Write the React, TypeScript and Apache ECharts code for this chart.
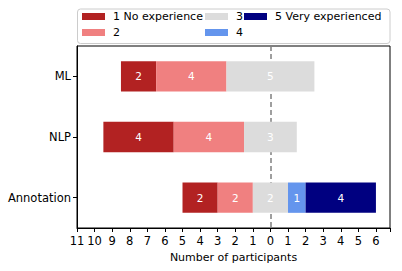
import React, { useEffect, useRef } from "react";
import * as echarts from "echarts";

const categories = ["ML", "NLP", "Annotation"];
const levelNames = ["1 No experience", "2", "3", "4", "5 Very experienced"];
const level1 = [2, 4, 2];
const level2 = [4, 4, 2];
const level3 = [5, 3, 2];
const level4 = [0, 0, 1];
const level5 = [0, 0, 4];
const levelColors = ["#b22222", "#f08080", "#dcdcdc", "#6495ed", "#000080"];
const xTickMin = -11;
const xTickMax = 6.8;
const xAxisName = "Number of participants";

const FONT = "DejaVu Sans";

export default function App() {
  const ref = useRef<HTMLDivElement>(null);
  useEffect(() => {
    document.body.style.margin = "0";
    const chart = echarts.init(ref.current!, null, { renderer: "svg" });
    const levels = [level1, level2, level3, level4, level5];
    const offsets = categories.map((_, i) => -(level1[i] + level2[i] + level3[i] / 2));

    const legendPos = [
      { left: 82, top: 11 },
      { left: 82, top: 27 },
      { left: 205, top: 11 },
      { left: 205, top: 27 },
      { left: 244, top: 11 },
    ];

    const series: any[] = [
      {
        name: "__offset",
        type: "bar",
        stack: "total",
        stackStrategy: "all",
        data: offsets,
        barWidth: "50%",
        itemStyle: { color: "rgba(0,0,0,0)" },
        silent: true,
        z: 1,
        markLine: {
          silent: true,
          symbol: "none",
          z: 1,
          label: { show: false },
          lineStyle: { color: "#808080", type: [5, 3], width: 1.5 },
          data: [{ xAxis: 0 }],
        },
      },
      ...levels.map((vals, k) => ({
        name: levelNames[k],
        type: "bar",
        stack: "total",
        stackStrategy: "all",
        data: vals,
        barWidth: "50%",
        z: 3,
        itemStyle: { color: levelColors[k] },
        label: {
          show: true,
          position: "inside",
          color: "#fff",
          fontFamily: FONT,
          fontSize: 10.5,
          formatter: (p: any) => (p.value > 0 ? String(p.value) : ""),
        },
      })),
    ];

    chart.setOption({
      animation: false,
      textStyle: { fontFamily: FONT },
      grid: { left: 77, right: 12, top: 46, bottom: 43, show: true, borderColor: "#000", borderWidth: 1 },
      legend: levelNames.map((n, k) => ({
        data: [n],
        left: legendPos[k].left,
        top: legendPos[k].top,
        padding: 0,
        itemWidth: 23,
        itemHeight: 7,
        icon: "rect",
        selectedMode: false,
        z: 20,
        textStyle: { fontFamily: FONT, fontSize: 11, color: "#000", padding: [0, 0, 0, 3] },
      })),
      graphic: [
        {
          type: "rect",
          z: 10,
          shape: { x: 77.5, y: 9, width: 312.5, height: 34.5, r: 3 },
          style: { fill: "rgba(255,255,255,0.85)", stroke: "#cccccc", lineWidth: 1 },
        },
      ],
      xAxis: {
        type: "value",
        min: xTickMin,
        max: xTickMax,
        interval: 1,
        splitLine: { show: false },
        axisLine: { show: true, onZero: false, lineStyle: { color: "#000" } },
        axisTick: { show: true, length: 4, lineStyle: { color: "#000" } },
        axisLabel: {
          color: "#000",
          fontSize: 11.5,
          fontFamily: FONT,
          margin: 7,
          formatter: (v: number) => (Number.isInteger(v) ? String(Math.abs(v)) : ""),
        },
        name: xAxisName,
        nameLocation: "middle",
        nameGap: 22,
        nameTextStyle: { color: "#000", fontSize: 11, fontFamily: FONT },
      },
      yAxis: {
        type: "category",
        data: categories,
        inverse: true,
        axisLine: { show: true, onZero: false, lineStyle: { color: "#000" } },
        axisTick: { show: true, alignWithLabel: true, length: 4, lineStyle: { color: "#000" } },
        axisLabel: { color: "#000", fontSize: 11.5, fontFamily: FONT, margin: 6 },
      },
      series,
    });
    return () => chart.dispose();
  }, []);
  return <div ref={ref} style={{ width: 402, height: 271 }} />;
}
